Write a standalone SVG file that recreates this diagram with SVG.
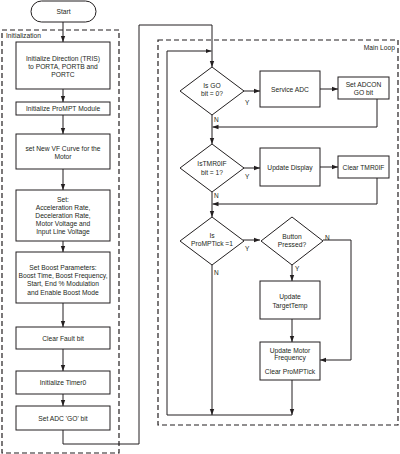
<svg xmlns="http://www.w3.org/2000/svg" width="400" height="454" viewBox="0 0 400 454">
<defs>
<marker id="ah" markerUnits="userSpaceOnUse" markerWidth="6" markerHeight="6" viewBox="0 0 6 6" refX="6" refY="3" orient="auto">
<path d="M0,0.8 L6,3 L0,5.2 Z" fill="#231f20"/>
</marker>
<style>
.box{fill:#fff;stroke:#231f20;stroke-width:1}
.dash{fill:none;stroke:#231f20;stroke-width:1.2;stroke-dasharray:5,3}
.c{fill:none;stroke:#231f20;stroke-width:1}
.a{marker-end:url(#ah)}
text{font-family:"Liberation Sans",Arial,sans-serif;font-size:6.7px;fill:#231f20}
.m{text-anchor:middle}
.lbl{font-size:6.5px}
</style>
</defs>
<rect class="dash" x="2" y="30" width="117" height="423"/>
<text x="6" y="37.5" font-size="6.8">Initialization</text>
<rect class="dash" x="158" y="40" width="240" height="385"/>
<text x="395" y="50" text-anchor="end" font-size="6.8">Main Loop</text>

<g id="connectors">
<path class="c a" d="M63,22 V42"/>
<path class="c a" d="M63,89 V102"/>
<path class="c a" d="M63,115 V134"/>
<path class="c a" d="M63,169 V190"/>
<path class="c a" d="M63,241 V252"/>
<path class="c a" d="M63,303 V327"/>
<path class="c a" d="M63,349 V371"/>
<path class="c a" d="M63,394 V406"/>
<path class="c a" d="M63,430 V444 H139 V25 H212 V67"/>
<path class="c a" d="M243,91 H260"/>
<path class="c a" d="M320,89 H338"/>
<path class="c a" d="M377,99 V127 H212.5"/>
<path class="c a" d="M212,115 V144"/>
<path class="c a" d="M243,168 H260"/>
<path class="c a" d="M320,167 H338"/>
<path class="c a" d="M377,178 V204 H212.5"/>
<path class="c a" d="M212,192 V217"/>
<path class="c a" d="M243,240 H260"/>
<path class="c a" d="M292,265 V281"/>
<path class="c a" d="M323,240 H351 V360 H320"/>
<path class="c a" d="M292,319 V342"/>
<path class="c a" d="M292,380 V415"/>
<path class="c a" d="M212,265 V415"/>
<path class="c a" d="M292,415 H167 V51 H211.5"/>
<text class="lbl" x="245" y="104.5">Y</text>
<text class="lbl" x="214" y="121.5">N</text>
<text class="lbl" x="245" y="178.5">Y</text>
<text class="lbl" x="214" y="197.5">N</text>
<text class="lbl" x="245" y="250.5">Y</text>
<text class="lbl" x="214" y="274.5">N</text>
<text class="lbl" x="325" y="239.5">N</text>
<text class="lbl" x="295" y="270.5">Y</text>
</g>

<g id="start">
<rect class="box" x="31" y="1" width="65" height="21" rx="10.5"/>
<text class="m" x="63.5" y="14">Start</text>
</g>
<g id="init-tris">
<rect class="box" x="16" y="42" width="94" height="47"/>
<text class="m" x="63" y="60.5">Initialize Direction (TRIS)</text>
<text class="m" x="63" y="68.5">to PORTA, PORTB and</text>
<text class="m" x="63" y="76.5">PORTC</text>
</g>
<g id="init-prompt">
<rect class="box" x="16" y="102" width="94" height="13"/>
<text class="m" x="63" y="111">Initialize ProMPT Module</text>
</g>
<g id="vf-curve">
<rect class="box" x="16" y="134" width="94" height="35"/>
<text class="m" x="63" y="150.5">set New VF Curve for the</text>
<text class="m" x="63" y="158.5">Motor</text>
</g>
<g id="set-rates">
<rect class="box" x="16" y="190" width="94" height="51"/>
<text class="m" x="63" y="201.5">Set:</text>
<text class="m" x="63" y="209.7">Acceleration Rate,</text>
<text class="m" x="63" y="217.9">Deceleration Rate,</text>
<text class="m" x="63" y="226.1">Motor Voltage and</text>
<text class="m" x="63" y="234.3">Input Line Voltage</text>
</g>
<g id="boost">
<rect class="box" x="16" y="252" width="94" height="51"/>
<text class="m" x="63" y="269.9">Set Boost Parameters:</text>
<text class="m" x="63" y="278.2">Boost Time, Boost Frequency,</text>
<text class="m" x="63" y="286.4">Start, End % Modulation</text>
<text class="m" x="63" y="294.7">and Enable Boost Mode</text>
</g>
<g id="clear-fault">
<rect class="box" x="16" y="327" width="94" height="22"/>
<text class="m" x="63" y="340.5">Clear Fault bit</text>
</g>
<g id="init-timer0">
<rect class="box" x="16" y="371" width="94" height="23"/>
<text class="m" x="63" y="385">Initialize Timer0</text>
</g>
<g id="set-adc-go">
<rect class="box" x="16" y="406" width="94" height="24"/>
<text class="m" x="63" y="420.5">Set ADC 'GO' bit</text>
</g>

<g id="is-go">
<polygon class="box" points="212,67 244,91 212,115 180,91"/>
<text class="m" x="212" y="87.5">Is GO</text>
<text class="m" x="212" y="95.5">bit = 0?</text>
</g>
<g id="service-adc">
<rect class="box" x="260" y="71" width="60" height="36"/>
<text class="m" x="290" y="91.5">Service ADC</text>
</g>
<g id="set-adcon">
<rect class="box" x="338" y="77" width="51" height="22"/>
<text class="m" x="363.5" y="87">Set ADCON</text>
<text class="m" x="363.5" y="94.5">GO bit</text>
</g>
<g id="is-tmr0if">
<polygon class="box" points="212,144 244,168 212,192 180,168"/>
<text class="m" x="212" y="166">IsTMR0IF</text>
<text class="m" x="212" y="174.5">bit = 1?</text>
</g>
<g id="update-display">
<rect class="box" x="260" y="148" width="60" height="38"/>
<text class="m" x="290" y="169.5">Update Display</text>
</g>
<g id="clear-tmr0if">
<rect class="box" x="338" y="156" width="51" height="22"/>
<text class="m" x="363.5" y="169.5">Clear TMR0IF</text>
</g>
<g id="is-prompttick">
<polygon class="box" points="212,217 244,241 212,265 180,241"/>
<text class="m" x="212" y="237.5">Is</text>
<text class="m" x="212" y="245.8">ProMPTick =1</text>
</g>
<g id="button-pressed">
<polygon class="box" points="292,217 323,241 292,265 261,241"/>
<text class="m" x="292" y="238.5">Button</text>
<text class="m" x="292" y="246.8">Pressed?</text>
</g>
<g id="update-targettemp">
<rect class="box" x="260" y="281" width="60" height="38"/>
<text class="m" x="290" y="298.5">Update</text>
<text class="m" x="290" y="307.5">TargetTemp</text>
</g>
<g id="update-motor">
<rect class="box" x="260" y="342" width="60" height="38"/>
<text class="m" x="290" y="352.5">Update Motor</text>
<text class="m" x="290" y="359.8">Frequency</text>
<text class="m" x="290" y="374.2">Clear ProMPTick</text>
</g>
</svg>
